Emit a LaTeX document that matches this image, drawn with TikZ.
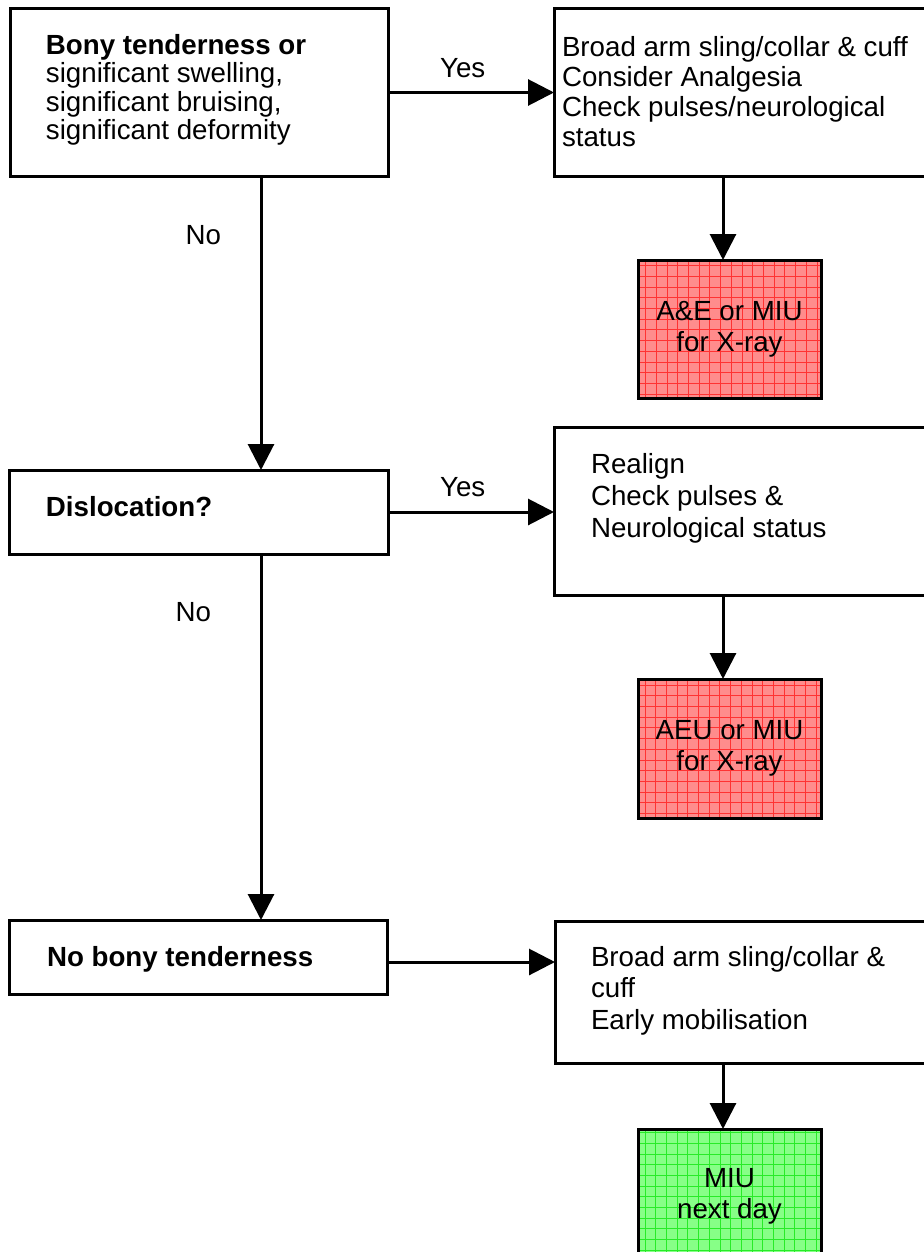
\documentclass[tikz,border=0pt]{standalone}
\usepackage{fontspec}
\setmainfont{Liberation Sans}
\usetikzlibrary{positioning, arrows.meta}
\definecolor{boxred}{RGB}{255,140,140}
\definecolor{gridred}{RGB}{255,50,50}
\definecolor{boxgreen}{RGB}{135,255,135}
\definecolor{gridgreen}{RGB}{40,235,40}

\begin{document}
\begin{tikzpicture}[
  x=0.5pt,
  y=-0.5pt,
  every node/.style={
    inner sep=0pt,
    outer sep=0pt
  },
  box/.style={
    draw,
    line width=1.5pt,
    anchor=north west,
    minimum width=195pt
  },
  txt/.style={
    anchor=north west,
    align=left,
    font=\fontsize{13.85pt}{#1}\selectfont
  },
  txt/.default=15pt,
  lbl/.style={font=\fontsize{13.85pt}{15pt}\selectfont},
  cell/.style 2 args={
    box,
    fill=#1,
    align=center,
    minimum width=91.5pt,
    font=\fontsize{13.85pt}{15.5pt}\selectfont,
    path picture={
      \draw[#2, line width=0.4pt] (path picture bounding box.north west)
        grid[xstep=5.35pt, ystep=5.35pt] (path picture bounding box.south east);
    }
  },
  arrow/.style={
    line width=1.5pt,
    -{Triangle[length=13pt, width=13pt]}
  },
]

\useasboundingbox (0,0) rectangle (924,1252);
\clip (0,0) rectangle (924,1252);

% top row
\node[box, minimum width=189pt, minimum height=83.5pt] (bony) at (10,9) {};
\node[txt=14.25pt] (bony-t) at ([shift={(36,25)}]bony.north west)
  {\textbf{Bony tenderness or}\\significant swelling,\\significant bruising,\\significant deformity};
\node[box, minimum height=83.5pt] (sling1) at (554,9) {};
\node[txt] (sling1-t) at ([shift={(8,27)}]sling1.north west)
  {Broad arm sling/collar \& cuff\\Consider Analgesia\\Check pulses/neurological\\status};
\node[cell={boxred}{gridred}, minimum height=69pt] (xray1) at (638,260) {A\&E or MIU\\for X-ray};

% middle row
\node[box, minimum width=189.5pt, minimum height=42pt] (dislok) at (9,470) {};
\node[txt] (dislok-t) at ([shift={(37,26)}]dislok.north west) {\textbf{Dislocation?}};
\node[box, minimum height=84pt] (realign) at (554,427) {};
\node[txt=16pt] (realign-t) at ([shift={(37,26)}]realign.north west)
  {Realign\\Check pulses \&\\Neurological status};
\node[cell={boxred}{gridred}, minimum height=69.5pt] (xray2) at (638,679) {AEU or MIU\\for X-ray};

% bottom row
\node[box, minimum width=189pt, minimum height=37pt] (notender) at (9,920) {};
\node[txt] (notender-t) at ([shift={(38,26)}]notender.north west) {\textbf{No bony tenderness}};
\node[box, minimum height=71pt] (sling2) at (555,921) {};
\node[txt=15.75pt] (sling2-t) at ([shift={(36,25)}]sling2.north west)
  {Broad arm sling/collar \&\\cuff\\Early mobilisation};
\node[cell={boxgreen}{gridgreen}, minimum height=67pt] (miu) at (638,1129) {MIU\\next day};

% connectors
\draw[arrow] (bony.east) -- (bony.east -| sling1.west)
  node[lbl, pos=0.45, above=7.5pt] {Yes};
\draw[arrow] ([xshift=31pt]bony.south) -- ([xshift=31pt]bony.south |- dislok.north)
  node[lbl, pos=0.2, left=20pt] {No};
\draw[arrow] ([xshift=-3.25pt]xray1.north |- sling1.south) -- ([xshift=-3.25pt]xray1.north);

\draw[arrow] (dislok.east) -- (dislok.east -| realign.west)
  node[lbl, pos=0.45, above=7.5pt] {Yes};
\draw[arrow] ([xshift=31.25pt]dislok.south) -- ([xshift=31.25pt]dislok.south |- notender.north)
  node[lbl, pos=0.16, left=25pt] {No};
\draw[arrow] ([xshift=-3.25pt]xray2.north |- realign.south) -- ([xshift=-3.25pt]xray2.north);

\draw[arrow] ([yshift=-2.5pt]notender.east) -- ([yshift=-2.5pt]notender.east -| sling2.west);
\draw[arrow] ([xshift=-3.25pt]miu.north |- sling2.south) -- ([xshift=-3.25pt]miu.north);

\end{tikzpicture}
\end{document}
